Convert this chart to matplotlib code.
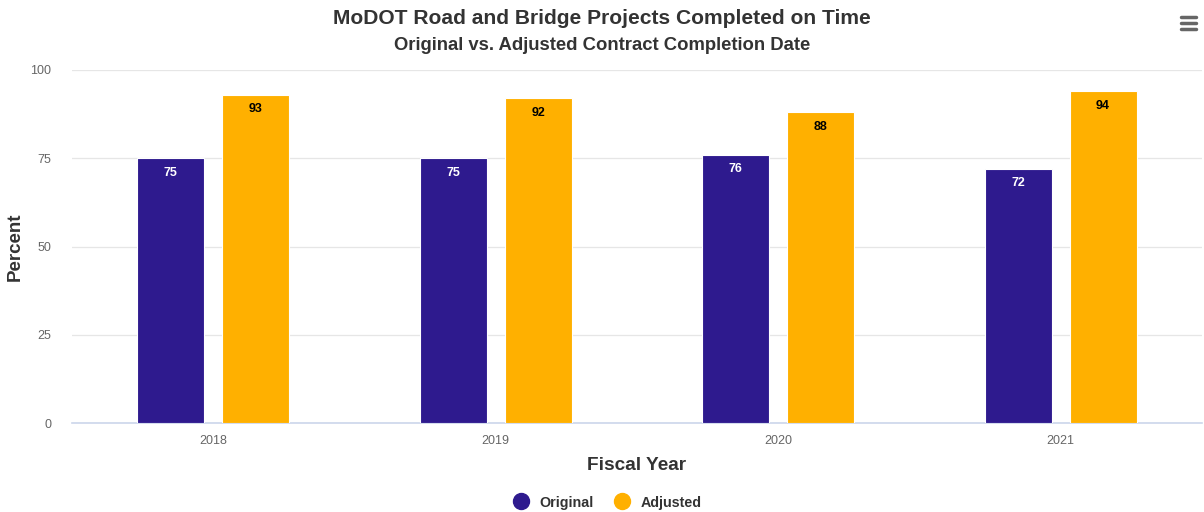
import numpy as np
import matplotlib
matplotlib.use("Agg")
import matplotlib.pyplot as plt
from matplotlib.lines import Line2D

plt.rcParams["font.family"] = ["Liberation Sans", "DejaVu Sans"]

years = ["2018", "2019", "2020", "2021"]
original = [75, 75, 76, 72]
adjusted = [93, 92, 88, 94]

C_ORIG = "#2e1a8e"
C_ADJ = "#ffb000"

fig = plt.figure(figsize=(12.04, 5.12), dpi=100)
W, H = 1204, 512
ax = fig.add_axes([72 / W, 1 - 423 / H, 1130 / W, 353 / H])

x = np.arange(len(years))
bw = 0.237
b1 = ax.bar(x - 0.15, original, bw, color=C_ORIG, edgecolor="white", linewidth=0.8, zorder=3)
b2 = ax.bar(x + 0.15, adjusted, bw, color=C_ADJ, edgecolor="white", linewidth=0.8, zorder=3)

for rect, v in zip(b1, original):
    ax.text(rect.get_x() + rect.get_width() / 2, v - 2.4, str(v), ha="center", va="top",
            color="white", fontsize=9, fontweight="bold", zorder=4)
for rect, v in zip(b2, adjusted):
    ax.text(rect.get_x() + rect.get_width() / 2, v - 2.4, str(v), ha="center", va="top",
            color="black", fontsize=9, fontweight="bold", zorder=4)

ax.set_xlim(-0.5, 3.5)
ax.set_ylim(0, 100)
ax.set_yticks([0, 25, 50, 75, 100])
ax.set_xticks(x)
ax.set_xticklabels(years)
ax.tick_params(axis="both", length=0, colors="#666666", labelsize=9)
ax.tick_params(axis="y", pad=15)
ax.tick_params(axis="x", pad=9)
ax.grid(axis="y", color="#e6e6e6", linewidth=0.9, zorder=0)
for s in ["top", "right", "left"]:
    ax.spines[s].set_visible(False)
ax.spines["bottom"].set_color("#ccd6eb")
ax.spines["bottom"].set_linewidth(1.2)

ax.set_ylabel("Percent", fontsize=13.5, fontweight="bold", color="#333333")
ax.yaxis.set_label_coords((24 - 72) / 1130, 0.5)
ax.set_xlabel("Fiscal Year", fontsize=13.7, fontweight="bold", color="#333333", labelpad=7)

fig.text(602 / W, 1 - 19 / H, "MoDOT Road and Bridge Projects Completed on Time",
         ha="center", va="center", fontsize=15.1, fontweight="bold", color="#333333")
fig.text(602 / W, 1 - 46 / H, "Original vs. Adjusted Contract Completion Date",
         ha="center", va="center", fontsize=13.3, fontweight="bold", color="#333333")

handles = [Line2D([], [], marker="o", linestyle="none", markersize=11.5, color=C_ORIG),
           Line2D([], [], marker="o", linestyle="none", markersize=11.5, color=C_ADJ)]
leg = fig.legend(handles, ["Original", "Adjusted"], loc="center", bbox_to_anchor=(604 / W, 1 - 502.5 / H),
                 ncol=2, frameon=False, fontsize=10.3, handletextpad=0.3, columnspacing=1.0)
for t in leg.get_texts():
    t.set_fontweight("bold")
    t.set_color("#333333")

# menu icon
for yy in [17, 23, 29]:
    fig.add_artist(Line2D([1181 / W, 1196 / W], [1 - yy / H, 1 - yy / H], color="#666666",
                          linewidth=2.5, solid_capstyle="round"))

fig.savefig("out.png", dpi=100)
